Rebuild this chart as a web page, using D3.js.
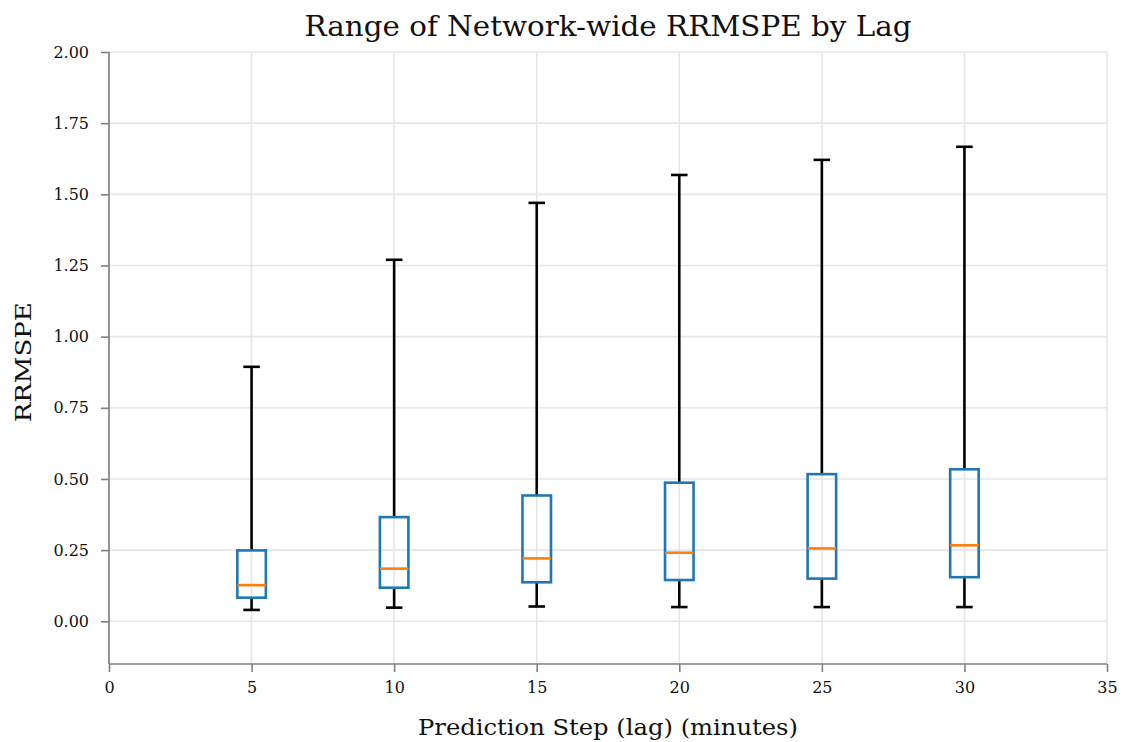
<!DOCTYPE html>
<html>
  <head>
    <meta charset="utf-8">
    <style>
      body { margin: 0; background: #fff; }
      text { font-family: "DejaVu Serif", "Liberation Serif", serif; fill: #111; }
    </style>
  </head>
  <body>
    <script src="https://cdn.jsdelivr.net/npm/d3@7"></script>
    <script>
    // values
    var lags = [5, 10, 15, 20, 25, 30];
    var whiskerLow = [0.040, 0.048, 0.052, 0.050, 0.050, 0.050];
    var q1 = [0.083, 0.118, 0.137, 0.145, 0.150, 0.155];
    var median = [0.127, 0.185, 0.221, 0.241, 0.256, 0.267];
    var q3 = [0.249, 0.366, 0.442, 0.487, 0.517, 0.534];
    var whiskerHigh = [0.894, 1.270, 1.470, 1.568, 1.621, 1.667];
    var xTicks = [0, 5, 10, 15, 20, 25, 30, 35];
    var yTicks = [0, 0.25, 0.5, 0.75, 1.0, 1.25, 1.5, 1.75, 2.0];

    var width = 1130, height = 742;
    var margin = { top: 52, right: 23, bottom: 78, left: 109 };

    var svg = d3.select("body")
                .append("svg")
                  .attr("width", width)
                  .attr("height", height);

    var xScale = d3.scaleLinear()
                   .domain([0, 35])
                   .range([margin.left, width - margin.right]);
    var yScale = d3.scaleLinear()
                   .domain([-0.15, 2.0])
                   .range([height - margin.bottom, margin.top]);

    // grid
    svg.append("g").selectAll("line").data(xTicks).enter().append("line")
      .attr("x1", function (d) { return xScale(d); })
      .attr("x2", function (d) { return xScale(d); })
      .attr("y1", yScale(-0.15))
      .attr("y2", yScale(2.0))
      .attr("stroke", "#e6e6ea")
      .attr("stroke-width", 1.6);
    svg.append("g").selectAll("line").data(yTicks).enter().append("line")
      .attr("y1", function (d) { return yScale(d); })
      .attr("y2", function (d) { return yScale(d); })
      .attr("x1", xScale(0))
      .attr("x2", xScale(35))
      .attr("stroke", "#e6e6ea")
      .attr("stroke-width", 1.6);

    // axes
    var xAxis = svg.append("g")
        .attr("transform", "translate(0," + yScale(-0.15) + ")")
        .call(d3.axisBottom(xScale).tickValues(xTicks).tickSize(8).tickPadding(10)
              .tickFormat(d3.format("d")));
    var yAxis = svg.append("g")
        .attr("transform", "translate(" + xScale(0) + ",0)")
        .call(d3.axisLeft(yScale).tickValues(yTicks).tickSize(8).tickPadding(12)
              .tickFormat(d3.format(".2f")));
    [xAxis, yAxis].forEach(function (ax) {
      ax.select(".domain").attr("stroke", "#7f7f7f").attr("stroke-width", 1.6);
      ax.selectAll(".tick line").attr("stroke", "#7f7f7f").attr("stroke-width", 1.6);
      ax.selectAll(".tick text")
        .style("font-family", "'DejaVu Serif', serif")
        .style("font-size", "16px")
        .attr("fill", "#111");
    });
    // domain line without outer ticks
    xAxis.select(".domain").attr("d", "M" + xScale(0) + ",0H" + xScale(35));
    yAxis.select(".domain").attr("d", "M0," + yScale(-0.15) + "V" + yScale(2.0));

    // boxes
    var boxW = xScale(1) - xScale(0);
    var capW = boxW * 0.58;
    var boxes = svg.append("g").selectAll("g").data(lags).enter().append("g");

    boxes.append("line")
      .attr("x1", function (d) { return xScale(d); })
      .attr("x2", function (d) { return xScale(d); })
      .attr("y1", function (d, i) { return yScale(q3[i]); })
      .attr("y2", function (d, i) { return yScale(whiskerHigh[i]); })
      .attr("stroke", "#000").attr("stroke-width", 2.6);
    boxes.append("line")
      .attr("x1", function (d) { return xScale(d); })
      .attr("x2", function (d) { return xScale(d); })
      .attr("y1", function (d, i) { return yScale(q1[i]); })
      .attr("y2", function (d, i) { return yScale(whiskerLow[i]); })
      .attr("stroke", "#000").attr("stroke-width", 2.6);
    boxes.append("line")
      .attr("x1", function (d) { return xScale(d) - capW / 2; })
      .attr("x2", function (d) { return xScale(d) + capW / 2; })
      .attr("y1", function (d, i) { return yScale(whiskerHigh[i]); })
      .attr("y2", function (d, i) { return yScale(whiskerHigh[i]); })
      .attr("stroke", "#000").attr("stroke-width", 2.6);
    boxes.append("line")
      .attr("x1", function (d) { return xScale(d) - capW / 2; })
      .attr("x2", function (d) { return xScale(d) + capW / 2; })
      .attr("y1", function (d, i) { return yScale(whiskerLow[i]); })
      .attr("y2", function (d, i) { return yScale(whiskerLow[i]); })
      .attr("stroke", "#000").attr("stroke-width", 2.6);
    boxes.append("rect")
      .attr("x", function (d) { return xScale(d - 0.5); })
      .attr("width", boxW)
      .attr("y", function (d, i) { return yScale(q3[i]); })
      .attr("height", function (d, i) { return yScale(q1[i]) - yScale(q3[i]); })
      .attr("fill", "none")
      .attr("stroke", "#1f77b4").attr("stroke-width", 2.6);
    boxes.append("line")
      .attr("x1", function (d) { return xScale(d - 0.5); })
      .attr("x2", function (d) { return xScale(d + 0.5); })
      .attr("y1", function (d, i) { return yScale(median[i]); })
      .attr("y2", function (d, i) { return yScale(median[i]); })
      .attr("stroke", "#ff7f0e").attr("stroke-width", 2.6);

    // labels
    svg.append("text")
      .attr("x", (xScale(0) + xScale(35)) / 2)
      .attr("y", 36)
      .attr("text-anchor", "middle")
      .attr("textLength", 607)
      .attr("lengthAdjust", "spacingAndGlyphs")
      .style("font-size", "27px")
      .text("Range of Network-wide RRMSPE by Lag");
    svg.append("text")
      .attr("x", (xScale(0) + xScale(35)) / 2)
      .attr("y", 735)
      .attr("text-anchor", "middle")
      .attr("textLength", 380)
      .attr("lengthAdjust", "spacingAndGlyphs")
      .style("font-size", "22px")
      .text("Prediction Step (lag) (minutes)");
    svg.append("text")
      .attr("transform", "translate(31," + yScale(0.91) + ") rotate(-90)")
      .attr("text-anchor", "middle")
      .attr("textLength", 120)
      .attr("lengthAdjust", "spacingAndGlyphs")
      .style("font-size", "22px")
      .text("RRMSPE");
    </script>
  </body>
</html>
